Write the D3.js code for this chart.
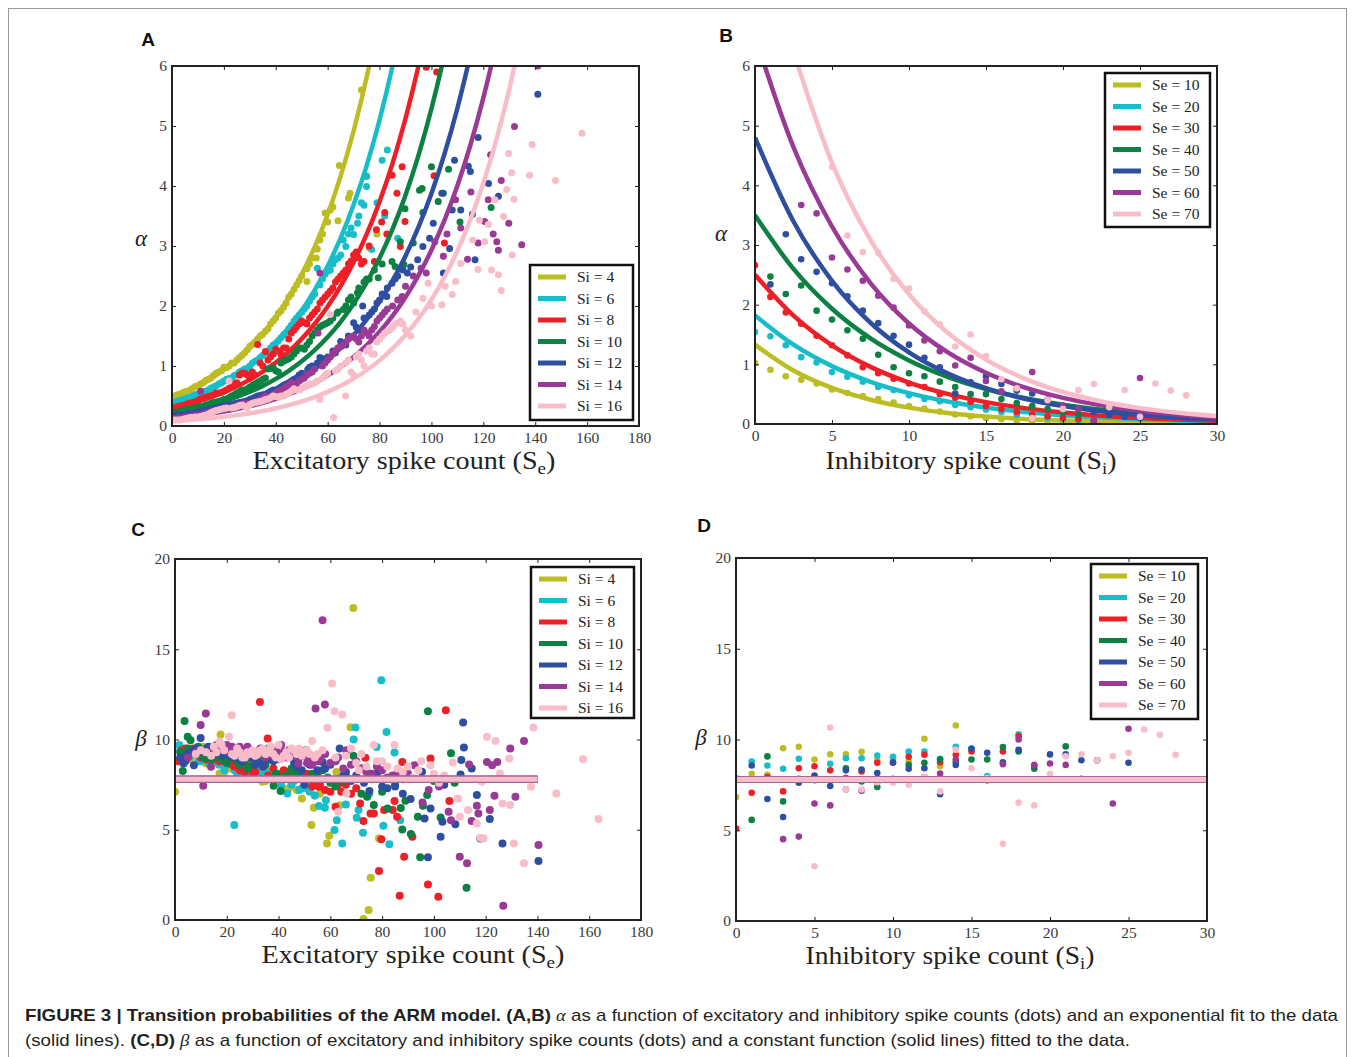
<!DOCTYPE html>
<html>
<head>
<meta charset="utf-8">
<script src="https://cdn.jsdelivr.net/npm/d3@7"></script>
<style>
  body { margin: 0; background: #fff; }
  .tick text { font-family: "Liberation Serif", "DejaVu Serif", serif; font-size: 15.5px; fill: #3a3a3a; }
</style>
</head>
<body>
<script>
// series colours and legend labels
var colors = ["#bcbd22", "#17bec9", "#ee1f26", "#0b8142", "#2e4ea1", "#9b3a96", "#f8bdc9"];
var siLabels = ["Si = 4", "Si = 6", "Si = 8", "Si = 10", "Si = 12", "Si = 14", "Si = 16"];
var seLabels = ["Se = 10", "Se = 20", "Se = 30", "Se = 40", "Se = 50", "Se = 60", "Se = 70"];

// ---- panel A : alpha vs Se, fitted curves ----
var fitA_si4 = [[0,0.48],[5,0.567],[10,0.669],[15,0.79],[20,0.933],[25,1.102],[30,1.301],[35,1.536],[40,1.814],[45,2.142],[50,2.529],[55,2.986],[60,3.526],[65,4.164],[70,4.916],[76,6.0],[78,6.41]];
var fitA_si6 = [[0,0.38],[5,0.447],[10,0.526],[15,0.618],[20,0.727],[25,0.855],[30,1.006],[35,1.183],[40,1.392],[45,1.637],[50,1.926],[55,2.265],[60,2.665],[65,3.134],[70,3.687],[75,4.336],[80,5.10],[85,6.0],[87,6.4]];
var fitA_si8 = [[0,0.3],[5,0.351],[10,0.411],[15,0.481],[20,0.564],[25,0.66],[30,0.773],[35,0.905],[40,1.059],[45,1.24],[50,1.452],[55,1.7],[60,1.99],[65,2.33],[70,2.728],[75,3.194],[80,3.739],[85,4.378],[90,5.125],[95,6.0],[97,6.39]];
var fitA_si10 = [[0,0.22],[5,0.258],[10,0.302],[15,0.354],[20,0.416],[25,0.487],[30,0.571],[35,0.669],[40,0.785],[45,0.92],[50,1.079],[55,1.264],[60,1.482],[65,1.737],[70,2.037],[75,2.388],[80,2.799],[85,3.281],[90,3.847],[95,4.51],[100,5.287],[104,6.0],[106,6.39]];
var fitA_si12 = [[0,0.17],[5,0.199],[10,0.232],[15,0.272],[20,0.318],[25,0.371],[30,0.434],[35,0.508],[40,0.594],[45,0.694],[50,0.812],[55,0.949],[60,1.109],[65,1.297],[70,1.517],[75,1.773],[80,2.073],[85,2.424],[90,2.834],[95,3.314],[100,3.874],[105,4.53],[110,5.296],[114,6.0],[116,6.38]];
var fitA_si14 = [[0,0.13],[5,0.152],[10,0.178],[15,0.207],[20,0.242],[25,0.283],[30,0.331],[35,0.387],[40,0.452],[45,0.528],[50,0.617],[55,0.721],[60,0.843],[65,0.985],[70,1.151],[75,1.345],[80,1.572],[85,1.837],[90,2.147],[95,2.509],[100,2.932],[105,3.426],[110,4.004],[115,4.679],[120,5.468],[123,6.0],[125,6.38]];
var fitA_si16 = [[0,0.08],[5,0.094],[10,0.111],[15,0.131],[20,0.154],[25,0.181],[30,0.213],[35,0.251],[40,0.296],[45,0.348],[50,0.41],[55,0.483],[60,0.569],[65,0.67],[70,0.789],[75,0.929],[80,1.094],[85,1.289],[90,1.518],[95,1.787],[100,2.105],[105,2.479],[110,2.919],[115,3.437],[120,4.048],[125,4.767],[130,5.614],[132,6.0],[134,6.4]];

// panel A dots
var dotsA_si4 = [[1,0.5],[2,0.52],[3,0.53],[4,0.55],[5,0.57],[6,0.58],[7,0.6],[8,0.63],[9,0.66],[10,0.67],[11,0.7],[12,0.72],[13,0.76],[14,0.78],[15,0.8],[16,0.84],[17,0.88],[18,0.9],[19,0.92],[20,0.98],[21,0.97],[22,1.0],[23,1.05],[24,1.05],[25,1.1],[26,1.14],[27,1.18],[28,1.22],[29,1.27],[30,1.33],[31,1.36],[32,1.4],[33,1.45],[34,1.5],[35,1.53],[36,1.58],[37,1.62],[38,1.7],[39,1.75],[40,1.8],[41,1.88],[42,1.92],[43,1.98],[44,2.05],[45,2.15],[46,2.2],[47,2.28],[48,2.35],[49,2.42],[50,2.5],[52,2.41],[52,2.62],[53,2.7],[54,2.8],[55.6,2.8],[56,2.95],[57,3.1],[58,3.2],[59,3.55],[60,3.4],[61,3.6],[62,3.65],[64,3.42],[64.5,4.34],[68,3.8],[68.6,3.88],[73,5.6],[75,4.17],[76,2.97],[79,3.2]];
var dotsA_si6 = [[1,0.4],[2,0.41],[3,0.43],[4,0.44],[5,0.45],[6,0.47],[7,0.48],[8,0.5],[9,0.52],[10,0.53],[11,0.55],[12,0.57],[13,0.58],[14,0.6],[15,0.63],[16,0.65],[17,0.67],[18,0.7],[19,0.72],[20,0.75],[21,0.78],[22,0.79],[23,0.8],[24,0.84],[25,0.86],[26,0.9],[27,0.92],[28,0.95],[29,0.96],[30,1.0],[31,1.05],[32,1.08],[33,1.1],[34,1.14],[35,1.18],[36,1.22],[37,1.25],[38,1.3],[39,1.35],[40,1.38],[41,1.42],[42,1.47],[43,1.52],[44,1.56],[45,1.62],[46,1.68],[47,1.75],[48,1.8],[49,1.85],[50,1.9],[51,1.95],[52,2.0],[53,2.08],[54,2.15],[55,2.2],[56,2.63],[57,2.35],[58,2.45],[59,2.53],[60,2.58],[61,2.6],[62,2.7],[63,2.77],[64,2.8],[65,2.85],[66,3.1],[67,2.99],[68,3.2],[69,3.3],[70,3.19],[71.5,3.38],[72,3.5],[73,3.72],[74,3.68],[75,3.99],[75,4.16],[77,2.94],[79,3.72],[81,4.43],[82,3.5],[83,4.6],[87,3.13]];
var dotsA_si8 = [[1,0.3],[2,0.32],[3,0.33],[4,0.34],[5,0.35],[6,0.37],[7,0.38],[8,0.39],[9,0.4],[10,0.42],[11,0.45],[12,0.46],[13,0.48],[14,0.49],[15,0.5],[16,0.52],[17,0.55],[18,0.55],[19,0.56],[20,0.58],[21,0.6],[22,0.63],[23,0.65],[24,0.7],[25,0.72],[26,0.85],[27,0.88],[28,0.88],[29,0.85],[30,0.8],[31,0.9],[32,0.85],[33,1.36],[34,1.05],[35,1.0],[36,1.24],[37,1.1],[38,1.15],[39,1.2],[40,1.28],[41,1.25],[42,1.2],[43,1.3],[44,1.3],[45,1.45],[46,1.55],[47,1.6],[48,1.65],[49,1.7],[50,1.75],[51,1.72],[52,1.7],[53,1.8],[54,1.85],[55,1.9],[56,1.95],[57,2.05],[58,2.1],[59,2.15],[60,2.2],[61,2.25],[62,2.3],[63,2.4],[64,2.45],[65,2.5],[66,2.55],[67,2.6],[68,2.7],[69,2.75],[70,2.85],[71,2.9],[72,2.8],[73,2.7],[74,2.74],[76,3.0],[78,2.74],[78.8,3.27],[80.8,3.4],[82,3.56],[82.8,3.2],[84.8,4.18],[86.7,3.88],[88,2.99],[88.7,4.32],[89.8,3.41],[98,5.98],[101,4.17],[102,5.9],[105,3.05]];
var dotsA_si10 = [[1,0.22],[2,0.23],[3,0.24],[4,0.25],[5,0.27],[6,0.27],[7,0.28],[8,0.29],[9,0.3],[10,0.31],[11,0.32],[12,0.33],[13,0.35],[14,0.36],[15,0.38],[16,0.39],[17,0.4],[18,0.41],[19,0.42],[20,0.44],[21,0.45],[22,0.47],[23,0.5],[24,0.52],[25,0.55],[26,0.57],[27,0.6],[28,0.6],[29,0.62],[30,0.65],[31,0.68],[32,0.7],[33,0.73],[34,0.75],[35,0.78],[36,0.8],[37,0.95],[38,0.96],[39,0.97],[40,0.92],[41,0.9],[42,1.05],[43,1.08],[44,1.1],[45,1.12],[46,1.15],[47,1.2],[48,1.25],[49,1.3],[50,1.3],[51,1.28],[52,1.35],[53,1.41],[54,1.5],[55,1.55],[56,1.6],[57,1.65],[58,1.68],[59,1.7],[60,1.72],[61,1.75],[62,1.8],[63.6,1.88],[64,1.9],[66,1.94],[67,2.0],[68,2.1],[69,2.15],[70,2.05],[71.5,2.22],[72,2.3],[74,2.4],[75,2.45],[76,2.45],[78,2.6],[79.5,2.47],[81,2.7],[84.8,2.74],[86,2.66],[88,3.07],[89.4,2.69],[89.8,3.62],[93,3.05],[95.4,3.93],[96.4,3.96],[96.7,3.56],[100,4.32],[102.6,3.74],[104.6,3.88],[106.6,4.28],[111,3.4],[123,3.64]];
var dotsA_si12 = [[1,0.17],[2,0.17],[3,0.18],[4,0.19],[5,0.19],[6,0.2],[7,0.21],[8,0.21],[9,0.22],[10,0.23],[11,0.24],[12,0.25],[13,0.26],[14,0.27],[15,0.28],[16,0.29],[17,0.3],[18,0.31],[19,0.32],[20,0.33],[21,0.34],[22,0.35],[23,0.36],[24,0.37],[25,0.38],[26,0.39],[27,0.4],[28,0.41],[29,0.42],[30,0.44],[31,0.46],[32,0.48],[33,0.5],[34,0.51],[35,0.52],[36,0.53],[37,0.55],[38,0.58],[39,0.6],[40,0.6],[41,0.62],[42,0.65],[43,0.68],[44,0.7],[45,0.72],[46,0.75],[47,0.78],[48,0.8],[49,0.85],[50,0.88],[52.3,0.94],[53,0.98],[54,1.0],[56,1.05],[57,1.14],[58,1.12],[60,1.15],[62,1.25],[63,1.22],[64,1.3],[65,1.41],[67,1.35],[68,1.5],[70,1.72],[71,1.65],[72,1.6],[73.5,2.0],[74,1.8],[76,1.85],[77,1.9],[78,1.95],[79,2.05],[80,2.1],[81,2.2],[82.8,2.16],[83,2.3],[84.8,2.38],[86,2.45],[87,2.5],[89,2.6],[90.7,2.55],[92,2.65],[94.7,2.77],[96.7,2.99],[99.3,3.13],[100.7,3.38],[104,3.88],[104.6,2.55],[107,2.96],[108,3.6],[108.9,4.43],[111.3,3.6],[114.2,4.33],[115,4.24],[115.8,3.53],[116.8,2.77],[118,4.81],[122,4.04],[125.8,3.83],[141,5.53]];
var dotsA_si14 = [[1,0.13],[2,0.13],[3,0.14],[4,0.14],[5,0.15],[6,0.15],[7,0.16],[8,0.17],[9,0.17],[10,0.18],[11,0.58],[12,0.2],[13,0.21],[14,0.22],[15,0.24],[16,0.25],[17,0.25],[18,0.26],[19,0.28],[20,0.3],[21,0.3],[22,0.28],[23,0.31],[24,0.32],[25,0.34],[26,0.35],[27,0.36],[28,0.38],[29,0.37],[30,0.36],[31,0.38],[32,0.4],[33,0.42],[34,0.44],[35,0.47],[36,0.5],[37,0.49],[38,0.48],[39,0.52],[40,0.55],[41,0.57],[42,0.6],[43,0.62],[44,0.65],[45,0.68],[46,0.72],[47,0.7],[48,0.7],[49,0.75],[50,0.78],[51,0.8],[52,0.85],[53,0.88],[54,0.9],[55,0.95],[56.3,1.55],[57,2.55],[58,1.0],[59,1.05],[60,1.1],[61,1.15],[62,1.2],[63,1.25],[64,1.3],[65,1.32],[66,1.35],[67,1.4],[68,1.45],[69,1.48],[70,1.5],[71,1.45],[72,1.4],[73,1.5],[74,1.6],[75,1.55],[76,1.5],[77,1.6],[78,1.66],[79,1.75],[80,1.8],[81,1.85],[82,1.9],[83,1.95],[85,2.0],[87,2.1],[88.7,2.16],[90,2.33],[93,2.5],[96,2.63],[98,2.55],[101.3,3.07],[104.6,2.83],[106,3.2],[109.3,3.77],[111.3,3.3],[113.9,2.78],[115.2,3.9],[118,3.05],[120.5,3.41],[121.9,3.77],[122.8,4.52],[123.8,3.2],[125.2,3.07],[125.8,2.93],[126.9,4.09],[129.8,3.38],[132,4.99],[134.8,3.02],[141,6.0]];
var dotsA_si16 = [[1,0.1],[2,0.1],[3,0.1],[4,0.11],[5,0.12],[6,0.13],[7,0.14],[8,0.14],[9,0.15],[10,0.15],[11,0.16],[12,0.17],[13,0.18],[14,0.2],[15,0.22],[16,0.24],[17,0.26],[18,0.27],[19,0.28],[20,0.29],[21,0.3],[22,0.75],[23,0.3],[24,0.31],[25,0.32],[26,0.34],[27,0.35],[28,0.33],[29,0.3],[30,0.36],[31,0.38],[32,0.39],[33,0.4],[34,0.41],[35,0.42],[36,0.44],[37,0.45],[38,0.47],[39,0.5],[40,0.49],[41,0.48],[42,0.5],[43,0.5],[44,0.53],[45,0.55],[46,0.58],[47,0.62],[48,0.6],[49,0.6],[50,0.63],[51,0.65],[52,0.68],[53,0.7],[54,0.7],[55,0.72],[56,0.75],[57,0.44],[58,0.8],[59,0.85],[60,0.88],[61,1.86],[62.3,0.14],[63,0.92],[64,0.95],[65,1.0],[66.9,0.5],[67,1.05],[68,1.1],[69,0.9],[70,0.85],[71,1.15],[72,1.2],[73,1.1],[74,1.0],[75,1.25],[76,1.3],[77,1.2],[78,1.2],[79,1.4],[80,1.45],[81,1.5],[82,1.55],[83,1.58],[84,1.6],[85,1.65],[86,1.7],[87,1.72],[88,1.75],[89,1.7],[90,1.6],[92,1.5],[94,1.9],[96.7,2.13],[98.7,2.38],[100,2.0],[104,2.02],[105.3,2.33],[108,2.19],[109.3,2.41],[111.3,2.71],[115.9,3.1],[117.9,2.61],[118.5,3.43],[120.5,3.07],[121.9,3.36],[123.2,2.6],[124.5,3.77],[125.8,2.52],[126.9,2.26],[127.8,3.49],[129,3.94],[129.8,4.54],[130.9,4.22],[131.1,2.85],[131.8,3.78],[137.8,4.18],[138.8,4.69],[147.8,4.09],[158,4.88]];

// ---- panel B : alpha vs Si, fitted curves ----
var fitB_se10 = [[0,1.33],[2.5,0.896],[5,0.604],[7.5,0.407],[10,0.274],[12.5,0.185],[15,0.125],[17.5,0.084],[20,0.057],[22.5,0.038],[25,0.026],[27.5,0.017],[30,0.012]];
var fitB_se20 = [[0,1.82],[2.5,1.329],[5,0.97],[7.5,0.708],[10,0.517],[12.5,0.377],[15,0.275],[17.5,0.201],[20,0.147],[22.5,0.107],[25,0.078],[27.5,0.057],[30,0.042]];
var fitB_se30 = [[0,2.5],[2.5,1.815],[5,1.318],[7.5,0.957],[10,0.695],[12.5,0.504],[15,0.366],[17.5,0.266],[20,0.193],[22.5,0.14],[25,0.102],[27.5,0.074],[30,0.054]];
var fitB_se40 = [[0,3.5],[2.5,2.599],[5,1.931],[7.5,1.434],[10,1.065],[12.5,0.791],[15,0.587],[17.5,0.436],[20,0.324],[22.5,0.241],[25,0.179],[27.5,0.133],[30,0.099]];
var fitB_se50 = [[0,4.8],[2.5,3.394],[5,2.4],[7.5,1.697],[10,1.2],[12.5,0.849],[15,0.6],[17.5,0.424],[20,0.3],[22.5,0.212],[25,0.15],[27.5,0.106],[30,0.075]];
var fitB_se60 = [[0,6.5],[2.5,4.638],[5,3.31],[7.5,2.362],[10,1.685],[12.5,1.203],[15,0.858],[17.5,0.612],[20,0.437],[22.5,0.312],[25,0.222],[27.5,0.159],[30,0.113]];
var fitB_se70 = [[2.2,6.48],[5,4.378],[7.5,3.085],[10,2.174],[12.5,1.532],[15,1.08],[17.5,0.761],[20,0.536],[22.5,0.378],[25,0.266],[27.5,0.188],[30,0.132]];

var dotsB_se10 = [[0,1.02],[1,0.91],[2,0.8],[3,0.74],[4,0.68],[5,0.58],[6,0.52],[7,0.47],[8,0.42],[9,0.36],[10,0.3],[11,0.26],[12,0.21],[13,0.16],[14,0.13],[15,0.1],[16,0.08],[17,0.06],[18,0.05],[19,0.04],[20,0.03]];
var dotsB_se20 = [[0,1.54],[1,1.47],[2,1.32],[3,1.12],[4,1.03],[5,0.87],[6,0.79],[7,0.71],[8,0.62],[9,0.57],[10,0.48],[11,0.42],[12,0.38],[13,0.32],[14,0.28],[15,0.24],[16,0.2],[17,0.15],[18,0.12],[19,0.1],[20,0.08],[21,0.06],[22,0.05]];
var dotsB_se30 = [[0,2.66],[1,2.13],[2,1.87],[3,1.68],[4,1.48],[5,1.32],[6,1.15],[7,0.95],[8,0.85],[9,0.76],[10,0.68],[11,0.62],[12,0.5],[13,0.44],[14,0.37],[15,0.3],[16,0.25],[17,0.2],[18,0.16],[19,0.13],[20,0.1],[21,0.08],[22,0.05]];
var dotsB_se40 = [[1,2.47],[2,2.18],[3,2.32],[4,1.9],[5,1.75],[6,1.57],[7,1.43],[8,1.16],[9,0.95],[10,0.85],[11,0.8],[12,0.71],[13,0.62],[14,0.5],[15,0.5],[16,0.42],[17,0.35],[18,0.3],[19,0.25],[20,0.2],[21,0.15]];
var dotsB_se50 = [[1,2.34],[2,3.18],[3,2.76],[4,2.55],[5,2.36],[6,2.14],[7,1.9],[8,1.69],[9,1.48],[10,1.33],[11,1.11],[12,0.95],[13,0.51],[14,0.7],[15,0.8],[16,0.67],[17,0.56],[18,0.51],[19,0.4],[20,0.3],[21,0.25],[22,0.2],[23,0.15],[24,0.12],[25,0.1]];
var dotsB_se60 = [[3,3.67],[4,3.53],[5,2.79],[6,2.59],[7,2.4],[8,2.15],[9,1.95],[10,1.65],[11,1.4],[12,1.22],[13,0.98],[14,1.11],[15,0.72],[16,0.55],[17,0.59],[18,0.87],[19,0.41],[20,0.31],[21,0.25],[22,0.06],[25,0.77]];
var dotsB_se70 = [[5,4.31],[6,3.16],[7,2.88],[8,2.87],[9,2.43],[10,2.27],[11,1.89],[12,1.67],[13,1.3],[14,1.5],[15,1.14],[16,0.75],[17,0.6],[18,0.1],[19,0.4],[20,0.25],[21,0.57],[22,0.67],[23,0.28],[24,0.57],[25,0.12],[26,0.68],[27,0.56],[28,0.48]];

// ---- panel C : beta vs Se ----
var dotsC_si4 = [[0,7.1],[1,8.8],[2,8.9],[3,9.0],[5,9.1],[6,8.9],[8,9.2],[9,9.4],[10,9.0],[11,9.6],[12,8.67],[13,8.8],[14,9.3],[15,9.1],[16,8.8],[17.2,8.1],[17.6,10.28],[19,8.2],[20,9.0],[21,8.4],[22,8.9],[23,8.5],[24,8.67],[25,9.0],[26,8.8],[27,8.4],[28,8.3],[29,8.7],[30,8.5],[31,8.1],[33.8,7.66],[35,7.7],[36,8.2],[38,7.8],[40,7.8],[42.4,7.23],[44,7.3],[45,7.6],[47,7.2],[49,6.73],[50,7.4],[51,7.5],[52.7,5.26],[53.6,6.22],[54,6.9],[56,7.0],[58.7,4.24],[59.6,4.67],[62.3,8.2],[63.6,6.36],[67.8,10.68],[68.9,17.29],[72.8,0.05],[74.8,0.55],[75.6,2.34],[78.8,4.52]];
var dotsC_si6 = [[1.7,9.69],[2,9.4],[3,9.2],[4,8.9],[5,9.0],[6,9.1],[7,9.3],[8,9.2],[9,8.8],[10,8.8],[11,9.3],[12,9.1],[13,8.7],[15,8.9],[16,8.8],[17,8.6],[18,8.7],[19,8.3],[20,8.6],[21,8.8],[22.9,5.26],[23,8.3],[24,8.1],[25,8.1],[26,8.2],[27,8.0],[28,8.5],[29,8.3],[30,8.0],[32,8.4],[33,8.2],[34,8.1],[35.8,8.12],[37,8.2],[38,8.1],[40,8.1],[41,7.47],[42,8.1],[43.4,7.01],[45,7.5],[46,7.7],[48,7.2],[49,7.3],[51,7.3],[52,7.1],[54,6.9],[55.6,6.31],[57.9,6.22],[58.3,6.64],[61.6,4.98],[62.5,5.53],[64.6,4.24],[66,6.4],[69,10.0],[69.7,10.66],[70.2,5.66],[70.9,6.09],[72.6,4.83],[75,7.0],[77.9,9.59],[79.7,13.28],[80.5,5.22],[81.7,10.42],[82.8,4.19],[84.8,9.28],[87,5.53]];
var dotsC_si8 = [[1.3,8.8],[2.6,9.41],[3,9.3],[4,9.5],[5,9.2],[6,9.4],[7,9.5],[8,9.2],[9,9.3],[10,9.0],[11,9.1],[12,8.9],[13,9.2],[14,9.0],[15,9.3],[16,8.9],[17,8.8],[18,9.0],[19,8.8],[20,9.1],[21,8.7],[22,8.6],[23,8.5],[24,8.8],[25,8.3],[26,8.6],[27,8.2],[28,8.5],[29,8.4],[30,8.0],[31,8.2],[32.8,12.08],[34,8.6],[35.8,10.06],[36,8.0],[38,8.4],[40,8.0],[42,8.3],[43,8.2],[44,8.1],[46,8.3],[47,8.0],[48,7.9],[50,7.6],[51,8.1],[53,7.4],[54,7.6],[55.6,7.38],[56,7.5],[58,7.2],[60,7.1],[62,6.27],[63,7.5],[64.2,7.1],[66,7.5],[68,7.0],[70,7.3],[71.5,6.46],[72.8,5.48],[73.5,8.99],[75.5,5.9],[76.8,5.9],[78.8,2.71],[79.7,4.48],[80.8,6.09],[84.1,6.09],[84.8,6.59],[85.8,5.72],[86.8,1.35],[87.8,8.76],[88.5,3.51],[91.7,4.61],[97.7,1.97],[98.7,8.95],[101.7,1.29],[104.6,11.62],[106,6.59]];
var dotsC_si10 = [[2,9.3],[3,8.25],[3.7,11.03],[4.9,10.15],[5,9.5],[6,9.96],[7,9.4],[8,9.4],[9,9.6],[10,9.2],[11,9.0],[12,9.0],[13,9.2],[14,8.9],[15,9.3],[16,9.2],[17,9.0],[18,8.9],[20,8.7],[21,9.0],[22,9.1],[24,8.8],[25,8.6],[27,8.8],[28,8.4],[30,8.6],[31,8.7],[33,8.9],[34,8.5],[35,8.6],[36,9.5],[38.1,7.44],[39,8.1],[40.8,7.14],[42,7.9],[43,8.0],[45,8.4],[46,8.2],[48,8.0],[50.7,9.41],[52,8.8],[53,8.1],[55,8.0],[57,8.3],[59,7.9],[60,7.6],[62,7.4],[63,7.8],[65,7.7],[66,8.0],[68.9,9.1],[72,7.0],[74.2,6.83],[76.8,6.37],[80,7.1],[82.1,6.18],[85,7.5],[87.2,6.2],[87.8,5.02],[89,6.6],[91.1,4.76],[93.8,5.72],[94.7,3.47],[95.8,6.33],[97.4,6.92],[97.7,11.57],[100,7.7],[102.6,5.68],[106.6,9.24],[108,7.6],[112.6,1.79]];
var dotsC_si12 = [[2,9.0],[3.3,8.67],[4,8.8],[5,9.2],[6,9.3],[7.3,8.58],[8,9.5],[9.9,10.09],[11,9.3],[12,9.5],[13,9.6],[14,9.3],[16,9.4],[17,9.6],[18,9.1],[19,9.6],[20,9.2],[22,9.0],[23,9.3],[24,9.1],[25,8.9],[26,8.8],[28,9.1],[29,9.0],[31,8.6],[32,8.7],[34,8.5],[35,8.9],[37,8.9],[38,8.8],[40,8.9],[41,9.2],[43,9.2],[44,9.3],[46,8.7],[47,8.5],[49,8.3],[50,7.5],[52,8.6],[53,9.04],[55,8.3],[57,8.76],[58,8.4],[60,8.6],[62,8.9],[63.6,9.5],[65,8.0],[66,8.2],[68,7.7],[70,8.0],[72,8.4],[73,7.6],[75.1,7.14],[76,7.8],[78,8.1],[80,7.4],[82,7.3],[85,7.4],[88,7.0],[91,6.7],[95.4,8.21],[96.4,5.63],[97.7,3.47],[98.7,6.18],[100,7.9],[102.6,4.61],[103.3,5.44],[104,7.5],[108.3,5.3],[110.3,8.06],[110.6,8.86],[111.3,10.94],[111.6,9.56],[114.6,8.4],[116.6,6.92],[117.9,4.52],[121.6,5.59],[126.5,4.24],[140.4,3.27]];
var dotsC_si14 = [[5,9.0],[8,9.3],[9.9,10.8],[10.9,7.44],[11.9,11.44],[13.9,8.49],[14,9.2],[15,9.5],[16,9.7],[17,9.6],[18,9.4],[19,9.5],[20,9.7],[21,9.3],[22,9.6],[23,9.5],[24,9.3],[25,9.6],[26,9.4],[27,9.2],[28,9.6],[29,9.4],[30,9.3],[31,9.1],[32,9.2],[33,9.5],[34,9.3],[35,9.0],[36,9.4],[37,9.2],[38,9.1],[39,9.4],[40,9.2],[41,9.69],[42,9.3],[43,9.0],[44,9.4],[45,9.3],[46,9.1],[47.7,8.67],[48,9.0],[50,9.1],[51,8.7],[52,8.9],[53,8.6],[54.3,11.72],[55,8.8],[56,8.9],[57,16.61],[57.9,11.94],[58,9.2],[60,8.7],[62,8.8],[63,9.0],[65,8.4],[66.2,9.41],[68,8.6],[70,8.8],[72,8.4],[74,8.2],[76,8.1],[78,8.5],[80,8.3],[82,7.9],[84,8.0],[86,8.2],[88,7.8],[90,8.1],[92.5,8.58],[95.6,6.51],[98,7.2],[102,7.4],[105.7,6.0],[106.6,5.53],[110,3.51],[112.8,3.14],[113.6,8.62],[114.6,5.48],[116.6,6.33],[117.2,5.9],[120.5,8.76],[121.6,6.09],[122.5,8.58],[123.4,6.88],[124.5,8.76],[126.8,0.79],[129.5,9.5],[131.5,6.83],[134.8,9.91],[140.4,4.15]];
var dotsC_si16 = [[8,9.2],[10,9.4],[12,9.3],[14,9.1],[15,9.6],[16,9.3],[17.2,9.87],[18,9.7],[19,9.4],[20.9,10.15],[21.9,11.35],[22,9.2],[23,9.1],[24,9.5],[25,9.3],[26,9.0],[27,9.0],[28,9.3],[29,9.2],[30,9.4],[31,9.1],[32,9.2],[33,9.4],[34,9.5],[35,9.2],[36,9.3],[37,9.6],[38,9.2],[39,9.0],[40,9.7],[41,8.9],[42,9.1],[43,9.3],[44,9.0],[45,9.5],[46,9.4],[47,9.2],[48,9.5],[49,9.1],[50,9.3],[51,9.4],[52,9.2],[53,9.91],[54,9.0],[55,9.2],[57,9.4],[58.9,10.65],[60.7,13.1],[61.6,11.57],[62,9.0],[63,6.0],[64.6,11.38],[66,9.1],[66.2,7.01],[68,9.5],[70,8.7],[71,8.3],[72,9.2],[74,8.5],[76.8,9.69],[78,8.8],[80,8.8],[82,8.5],[84.8,9.69],[86,8.4],[88,8.2],[90,8.5],[92,7.9],[94,8.3],[95.1,8.8],[98.7,8.58],[100,8.1],[102,7.6],[104,8.0],[107.3,8.73],[109.3,6.73],[110,5.72],[113.2,6.09],[116.6,5.35],[117.9,4.56],[118.5,7.66],[119.2,4.52],[120.5,10.15],[123.8,9.91],[125.5,8.12],[126.5,6.46],[129.1,8.95],[129.5,6.37],[130.9,4.24],[134.8,3.14],[137.5,7.38],[138.4,10.66],[147.3,7.01],[157.6,8.91],[163.6,5.59]];
// constant fits for beta (one value per series)
var betaFitC = [7.8, 7.8, 7.8, 7.8, 7.8, 7.8, 7.8];
var betaFitCRange = [0, 140];

// ---- panel D : beta vs Si ----
var dotsD_se10 = [[0,6.83],[1,8.11],[2,8.06],[3,9.52],[4,9.6],[5,8.9],[6,9.19],[7,9.19],[8,9.32],[9,8.85],[10,9.0],[11,8.8],[12,10.04],[13,8.53],[14,10.77]];
var dotsD_se20 = [[0,7.88],[1,8.79],[2,8.57],[3,8.39],[4,8.94],[5,7.75],[6,8.66],[7,8.97],[8,8.97],[9,9.12],[10,9.05],[11,9.34],[12,9.34],[13,8.94],[14,9.6],[15,9.5],[16,7.99],[18,10.29]];
var dotsD_se30 = [[0,5.09],[1,7.07],[2,7.93],[3,7.14],[4,8.42],[5,8.53],[6,8.3],[7,7.88],[8,8.24],[9,8.72],[10,8.72],[11,9.05],[12,9.16],[13,8.75],[14,9.16],[15,9.34],[16,7.75],[17,9.34],[18,10.18]];
var dotsD_se40 = [[1,5.57],[2,9.07],[3,6.59],[4,7.84],[7,8.42],[8,7.69],[9,7.38],[11,8.6],[12,8.72],[13,8.9],[14,8.75],[15,8.9],[16,8.9],[17,9.58],[18,9.34],[19,8.39],[21,9.62]];
var dotsD_se50 = [[1,8.57],[2,6.72],[3,5.73],[4,7.62],[5,8.02],[6,7.44],[7,8.3],[8,8.35],[9,8.15],[10,8.75],[11,8.39],[12,8.42],[13,6.98],[14,8.6],[15,9.49],[16,9.27],[17,8.75],[18,9.43],[19,8.57],[20,9.18],[21,9.19],[22,8.86],[23,8.85],[25,8.72]];
var dotsD_se60 = [[3,4.51],[4,4.65],[5,6.47],[6,6.37],[7,7.25],[8,7.18],[9,7.65],[10,7.84],[12,7.93],[13,8.13],[14,8.9],[16,7.84],[17,8.64],[18,10.0],[19,8.6],[20,8.68],[21,8.6],[22,7.84],[23,8.86],[24,6.47],[25,10.59]];
var dotsD_se70 = [[5,3.02],[6,10.66],[7,7.25],[8,7.25],[9,7.65],[10,7.62],[11,7.51],[12,7.93],[13,7.14],[14,9.43],[15,8.42],[16,7.88],[17,4.25],[18,6.52],[19,6.37],[20,8.11],[21,9.08],[22,9.19],[23,8.85],[24,9.08],[25,9.27],[26,10.55],[27,10.26],[28,9.16]];
var betaFitD = [7.8, 7.8, 7.8, 7.8, 7.8, 7.8, 7.8];
var betaFitDRange = [0, 30];

var captionLine1 = "FIGURE 3 | Transition probabilities of the ARM model. (A,B)";
var captionLine1b = " as a function of excitatory and inhibitory spike counts (dots) and an exponential fit to the data";
var captionLine2a = "(solid lines). ";
var captionLine2b = "(C,D)";
var captionLine2c = " as a function of excitatory and inhibitory spike counts (dots) and a constant function (solid lines) fitted to the data.";

var W = 1355, H = 1057;
var svg = d3.select("body").append("svg").attr("width", W).attr("height", H);

// thin frame around the whole figure
svg.append("rect").attr("x", 8.5).attr("y", 8.5).attr("width", 1338).attr("height", 1100)
  .attr("fill", "none").attr("stroke", "#999").attr("stroke-width", 1);

var serif = "'Liberation Serif', 'DejaVu Serif', serif";

function panel(cfg) {
  var x = d3.scaleLinear().domain(cfg.xd).range([cfg.x0, cfg.x1]);
  var y = d3.scaleLinear().domain(cfg.yd).range([cfg.y1, cfg.y0]);
  var g = svg.append("g");
  var id = "clip" + cfg.name;
  svg.append("clipPath").attr("id", id).append("rect")
    .attr("x", cfg.x0).attr("y", cfg.y0).attr("width", cfg.x1 - cfg.x0).attr("height", cfg.y1 - cfg.y0);
  var plot = g.append("g").attr("clip-path", "url(#" + id + ")");
  var fmt = d3.format("d");

  // axes with inward ticks on all four sides
  g.append("g").attr("transform", "translate(0," + cfg.y1 + ")")
    .call(d3.axisBottom(x).tickValues(cfg.xt).tickFormat(fmt).tickSizeInner(-4).tickSizeOuter(0).tickPadding(6))
    .call(function(a) { a.select(".domain").remove(); });
  g.append("g").attr("transform", "translate(0," + cfg.y0 + ")")
    .call(d3.axisTop(x).tickValues(cfg.xt).tickSizeInner(-4).tickSizeOuter(0).tickFormat(""))
    .call(function(a) { a.select(".domain").remove(); });
  g.append("g").attr("transform", "translate(" + cfg.x0 + ",0)")
    .call(d3.axisLeft(y).tickValues(cfg.yt).tickFormat(fmt).tickSizeInner(-4).tickSizeOuter(0).tickPadding(5))
    .call(function(a) { a.select(".domain").remove(); });
  g.append("g").attr("transform", "translate(" + cfg.x1 + ",0)")
    .call(d3.axisRight(y).tickValues(cfg.yt).tickSizeInner(-4).tickSizeOuter(0).tickFormat(""))
    .call(function(a) { a.select(".domain").remove(); });
  g.selectAll(".tick line").attr("stroke", "#222");

  return { x: x, y: y, g: g, plot: plot, cfg: cfg };
}

function frame(p) {
  var c = p.cfg;
  p.g.append("rect").attr("x", c.x0).attr("y", c.y0).attr("width", c.x1 - c.x0).attr("height", c.y1 - c.y0)
    .attr("fill", "none").attr("stroke", "#222").attr("stroke-width", 2);
}

function dots(p, data, color, r) {
  p.plot.append("g").selectAll("circle").data(data).enter().append("circle")
    .attr("cx", function(d) { return p.x(d[0]); })
    .attr("cy", function(d) { return p.y(d[1]); })
    .attr("r", r).attr("fill", color);
}

function curve(p, data, color, w) {
  var line = d3.line().x(function(d) { return p.x(d[0]); }).y(function(d) { return p.y(d[1]); })
    .curve(d3.curveMonotoneX);
  p.plot.append("path").datum(data).attr("d", line)
    .attr("fill", "none").attr("stroke", color).attr("stroke-width", w);
}

function legend(bx, by, bw, bh, labels) {
  var lg = svg.append("g");
  lg.append("rect").attr("x", bx).attr("y", by).attr("width", bw).attr("height", bh)
    .attr("fill", "#fff").attr("stroke", "#111").attr("stroke-width", 2.5);
  labels.forEach(function(t, i) {
    var yy = by + 12 + i * 21.5;
    lg.append("line").attr("x1", bx + 8).attr("x2", bx + 36).attr("y1", yy).attr("y2", yy)
      .attr("stroke", colors[i]).attr("stroke-width", 5);
    lg.append("text").attr("x", bx + 47).attr("y", yy).attr("dy", "0.35em")
      .attr("font-family", serif).attr("font-size", 15.5).attr("fill", "#222").text(t);
  });
}

function xlabel(cx, cy, len, main, sub) {
  var t = svg.append("text").attr("x", cx).attr("y", cy).attr("text-anchor", "middle")
    .attr("font-family", serif).attr("font-size", 25).attr("fill", "#222")
    .attr("textLength", len).attr("lengthAdjust", "spacingAndGlyphs");
  t.append("tspan").text(main);
  t.append("tspan").attr("font-size", 17).attr("dy", 5).text(sub);
  t.append("tspan").attr("dy", -5).text(")");
}

function ylabel(cx, cy, sym) {
  svg.append("text").attr("x", cx).attr("y", cy).attr("text-anchor", "middle")
    .attr("font-family", serif).attr("font-style", "italic").attr("font-size", 23)
    .attr("fill", "#222").text(sym);
}

function letter(cx, cy, s) {
  svg.append("text").attr("x", cx).attr("y", cy).attr("text-anchor", "middle")
    .attr("font-family", "'Liberation Sans', Arial, sans-serif").attr("font-weight", "bold")
    .attr("font-size", 19).attr("fill", "#111").text(s);
}

function betaLines(p, vals, range) {
  vals.forEach(function(v, i) {
    curve(p, [[range[0], v], [range[1], v]], i === 6 ? colors[i] : "#a06a9c", i === 6 ? 5 : 7);
  });
}

// ---- Panel A ----
var pA = panel({ name: "A", x0: 172, x1: 639, y0: 66, y1: 426, xd: [0, 180], yd: [0, 6],
  xt: d3.range(0, 181, 20), yt: d3.range(0, 7, 1) });
var dotsA = [dotsA_si4, dotsA_si6, dotsA_si8, dotsA_si10, dotsA_si12, dotsA_si14, dotsA_si16];
var fitsA = [fitA_si4, fitA_si6, fitA_si8, fitA_si10, fitA_si12, fitA_si14, fitA_si16];
dotsA.forEach(function(d, i) { dots(pA, d, colors[i], 3.5); curve(pA, fitsA[i], colors[i], 4.5); });
frame(pA);
legend(530, 265, 103, 155, siLabels);
letter(148, 46, "A");
ylabel(141, 246, "α");
xlabel(404, 469, 303, "Excitatory spike count  (S", "e");

// ---- Panel B ----
var pB = panel({ name: "B", x0: 755, x1: 1217, y0: 66, y1: 424, xd: [0, 30], yd: [0, 6],
  xt: d3.range(0, 31, 5), yt: d3.range(0, 7, 1) });
var dotsB = [dotsB_se10, dotsB_se20, dotsB_se30, dotsB_se40, dotsB_se50, dotsB_se60, dotsB_se70];
var fitsB = [fitB_se10, fitB_se20, fitB_se30, fitB_se40, fitB_se50, fitB_se60, fitB_se70];
dotsB.forEach(function(d, i) { dots(pB, d, colors[i], 3.3); curve(pB, fitsB[i], colors[i], 4.5); });
frame(pB);
legend(1105, 73, 105, 154, seLabels);
letter(726, 42, "B");
ylabel(721, 241, "α");
xlabel(971, 469, 291, "Inhibitory spike count (S", "i");

// ---- Panel C ----
var pC = panel({ name: "C", x0: 175, x1: 641, y0: 559, y1: 920, xd: [0, 180], yd: [0, 20],
  xt: d3.range(0, 181, 20), yt: d3.range(0, 21, 5) });
var dotsC = [dotsC_si4, dotsC_si6, dotsC_si8, dotsC_si10, dotsC_si12, dotsC_si14, dotsC_si16];
dotsC.forEach(function(d, i) { dots(pC, d, colors[i], 4); });
betaLines(pC, betaFitC, betaFitCRange);
frame(pC);
legend(531, 567, 103, 151, siLabels);
letter(138, 536, "C");
ylabel(141, 746, "β");
xlabel(413, 963, 303, "Excitatory spike count  (S", "e");

// ---- Panel D ----
var pD = panel({ name: "D", x0: 736, x1: 1207, y0: 558, y1: 921, xd: [0, 30], yd: [0, 20],
  xt: d3.range(0, 31, 5), yt: d3.range(0, 21, 5) });
var dotsD = [dotsD_se10, dotsD_se20, dotsD_se30, dotsD_se40, dotsD_se50, dotsD_se60, dotsD_se70];
dotsD.forEach(function(d, i) { dots(pD, d, colors[i], 3.3); });
betaLines(pD, betaFitD, betaFitDRange);
frame(pD);
legend(1091, 564, 107, 155, seLabels);
letter(704, 532, "D");
ylabel(701, 745, "β");
xlabel(950, 964, 289, "Inhibitory spike count (S", "i");

// ---- caption ----
var capFont = "'Liberation Sans Narrow', 'Arial Narrow', 'Liberation Sans', Arial, sans-serif";
var c1 = svg.append("text").attr("x", 25).attr("y", 1021).attr("font-family", capFont)
  .attr("font-size", 17).attr("fill", "#231f20").attr("textLength", 1313).attr("lengthAdjust", "spacingAndGlyphs");
c1.append("tspan").attr("font-weight", "bold").text(captionLine1 + " ");
c1.append("tspan").attr("font-style", "italic").attr("font-family", serif).text("α");
c1.append("tspan").text(captionLine1b);
var c2 = svg.append("text").attr("x", 25).attr("y", 1046).attr("font-family", capFont)
  .attr("font-size", 17).attr("fill", "#231f20").attr("textLength", 1105).attr("lengthAdjust", "spacingAndGlyphs");
c2.append("tspan").text(captionLine2a);
c2.append("tspan").attr("font-weight", "bold").text(captionLine2b + " ");
c2.append("tspan").attr("font-style", "italic").attr("font-family", serif).text("β");
c2.append("tspan").text(captionLine2c);
</script>
</body>
</html>
